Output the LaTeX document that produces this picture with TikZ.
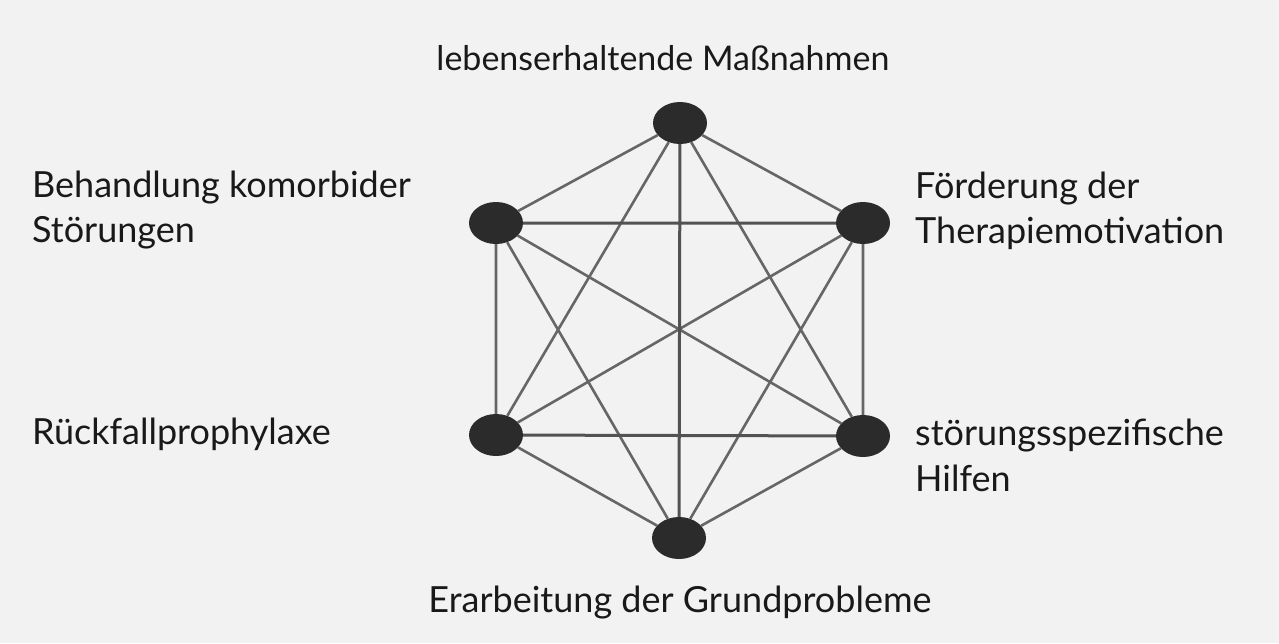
\documentclass[tikz,border=0pt]{standalone}
\usepackage{fontspec}
\setmainfont{Lato}
\usetikzlibrary{shapes.geometric}
\definecolor{paper}{HTML}{F2F2F2}
\definecolor{dot}{HTML}{2B2B2B}
\definecolor{edge}{HTML}{666666}
\tikzset{
  pt/.style={ellipse,fill=dot,minimum width=54pt,minimum height=42pt,inner sep=0pt},
  thin edge/.style={draw=edge,line width=2.6pt},
  thick edge/.style={draw=edge!80!black,line width=3pt},
  lbl/.style={font=\fontsize{36}{45}\selectfont,text=black!90,inner sep=0pt,align=left}
}
\begin{document}
\begin{tikzpicture}[x=1pt,y=1pt]
\fill[paper] (0,0) rectangle (1279,-643);
\useasboundingbox (0,0) rectangle (1279,-643);
\node[pt] (t)  at (680,-123) {};
\node[pt] (ul) at (496,-223) {};
\node[pt] (ur) at (863,-223) {};
\node[pt] (ll) at (496,-435) {};
\node[pt] (lr) at (863,-436) {};
\node[pt] (b)  at (679,-538) {};
\path[thin edge] (t) -- (ul) (t) -- (ur) (t) -- (ll) (t) -- (lr)
  (ul) -- (lr) (ul) -- (b) (ur) -- (ll) (ur) -- (b)
  (ll) -- (b) (lr) -- (b) (ul) -- (ll) (ur) -- (lr);
\path[thick edge] (t) -- (b) (ul) -- (ur) (ll) -- (lr);
\node[lbl,font=\fontsize{34}{42}\selectfont,anchor=base] (lt) at (663,-70) {lebenserhaltende Maßnahmen};
\node[lbl,anchor=base west] (lul1) at (32,-197) {Behandlung komorbider};
\node[lbl,anchor=base west] (lul2) at (32,-242) {Störungen};
\node[lbl,anchor=base west] (lur1) at (915,-198) {Förderung der};
\node[lbl,anchor=base west] (lur2) at (915,-243) {Therapiemotivation};
\node[lbl,anchor=base west] (lll) at (32,-444) {Rückfallprophylaxe};
\node[lbl,anchor=base west] (llr1) at (915,-445) {störungsspezifische};
\node[lbl,anchor=base west] (llr2) at (915,-491) {Hilfen};
\node[lbl,anchor=base] (lb) at (680,-612) {Erarbeitung der Grundprobleme};
\end{tikzpicture}
\end{document}
